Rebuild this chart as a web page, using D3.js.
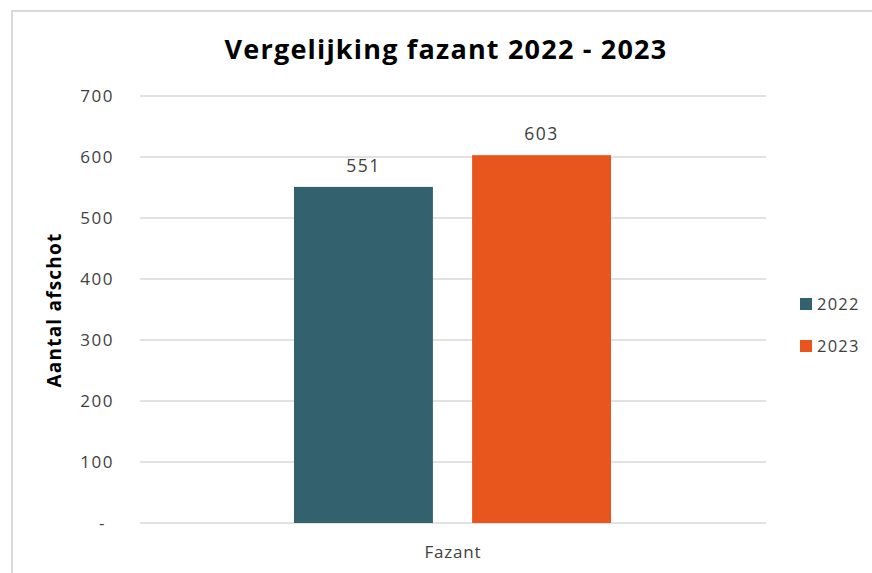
<!DOCTYPE html>
<html>
<head>
<meta charset="utf-8">
<script src="https://cdn.jsdelivr.net/npm/d3@7"></script>
<style>
  body { margin: 0; background: #fff; }
  svg text { font-family: "Open Sans", "Noto Sans", sans-serif; }
</style>
</head>
<body>
<div id="chart"></div>
<script>
// chart data
var categories = ["Fazant"];
var seriesNames = ["2022", "2023"];
var seriesValues = [551, 603];
var seriesColors = ["#33626e", "#e9561d"];
var yTicks = [0, 100, 200, 300, 400, 500, 600, 700];

var width = 872, height = 573;
var margin = { left: 140, top: 96, right: 106, bottom: 50 };

var svg = d3.select("#chart").append("svg")
    .attr("width", width)
    .attr("height", height);

// outer frame
svg.append("rect")
    .attr("x", 12).attr("y", 11)
    .attr("width", width + 10).attr("height", height + 10)
    .attr("fill", "none")
    .attr("stroke", "#d9d9d9")
    .attr("stroke-width", 2);

var x = d3.scaleBand().domain(categories).range([margin.left, width - margin.right]);
var y = d3.scaleLinear().domain([0, 700]).range([523, margin.top]);

// inner band for the two bars
var x1 = d3.scaleBand().domain(seriesNames)
    .range([x("Fazant") + 154, x("Fazant") + x.bandwidth() - 155])
    .paddingInner(0.22);

// grid lines
svg.append("g").selectAll("line")
    .data(yTicks)
    .enter().append("line")
    .attr("x1", margin.left).attr("x2", width - margin.right)
    .attr("y1", function(d) { return y(d); })
    .attr("y2", function(d) { return y(d); })
    .attr("stroke", "#d9d9d9")
    .attr("stroke-width", 1.5);

// y axis labels (zero shown as a dash, like accounting format)
svg.append("g").selectAll("text")
    .data(yTicks)
    .enter().append("text")
    .attr("x", function(d) { return d === 0 ? 106 : 114; })
    .attr("y", function(d) { return y(d); })
    .attr("dy", "0.35em")
    .attr("text-anchor", "end")
    .attr("font-size", 17)
    .attr("letter-spacing", 1.5)
    .attr("fill", "#404040")
    .text(function(d) { return d === 0 ? "-" : d; });

// bars
svg.append("g").selectAll("rect")
    .data(seriesValues)
    .enter().append("rect")
    .attr("x", function(d, i) { return x1(seriesNames[i]); })
    .attr("y", function(d) { return y(d); })
    .attr("width", x1.bandwidth())
    .attr("height", function(d) { return y(0) - y(d); })
    .attr("fill", function(d, i) { return seriesColors[i]; });

// value labels
svg.append("g").selectAll("text")
    .data(seriesValues)
    .enter().append("text")
    .attr("x", function(d, i) { return x1(seriesNames[i]) + x1.bandwidth() / 2; })
    .attr("y", function(d) { return y(d) - 15; })
    .attr("text-anchor", "middle")
    .attr("font-size", 17.5)
    .attr("letter-spacing", 1.5)
    .attr("fill", "#404040")
    .text(function(d) { return d; });

// category label
svg.append("text")
    .attr("x", x("Fazant") + x.bandwidth() / 2)
    .attr("y", 558)
    .attr("text-anchor", "middle")
    .attr("font-size", 17)
    .attr("letter-spacing", 0.8)
    .attr("fill", "#404040")
    .text(categories[0]);

// title
svg.append("text")
    .attr("x", 446)
    .attr("y", 59)
    .attr("text-anchor", "middle")
    .attr("font-size", 27)
    .attr("font-weight", "bold")
    .attr("letter-spacing", 1.2)
    .attr("fill", "#000")
    .text("Vergelijking fazant 2022 - 2023");

// y axis title
svg.append("text")
    .attr("transform", "translate(61,310) rotate(-90)")
    .attr("text-anchor", "middle")
    .attr("font-size", 19)
    .attr("font-weight", "bold")
    .attr("letter-spacing", 1.2)
    .attr("fill", "#000")
    .text("Aantal afschot");

// legend
var legend = svg.append("g").selectAll("g")
    .data(seriesNames)
    .enter().append("g")
    .attr("transform", function(d, i) { return "translate(800," + (298 + i * 42) + ")"; });
legend.append("rect")
    .attr("x", 0).attr("y", 0)
    .attr("width", 12).attr("height", 12)
    .attr("fill", function(d, i) { return seriesColors[i]; });
legend.append("text")
    .attr("x", 17).attr("y", 6)
    .attr("dy", "0.35em")
    .attr("font-size", 16.5)
    .attr("letter-spacing", 1.2)
    .attr("fill", "#404040")
    .text(function(d) { return d; });
</script>
</body>
</html>
